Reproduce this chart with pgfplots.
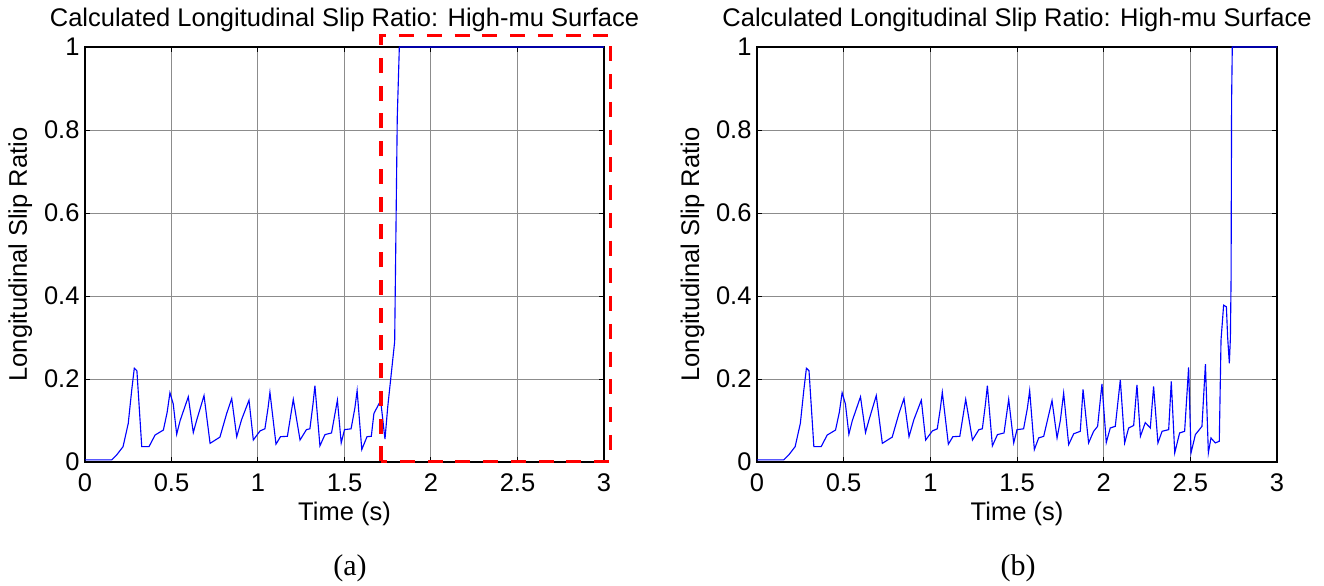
\documentclass[border=0pt]{standalone}
\usepackage{fontspec}
\setmainfont{Liberation Sans}
\newfontfamily\capfont{Liberation Serif}
\usepackage{pgfplots}
\pgfplotsset{compat=1.18}
\definecolor{mblue}{RGB}{0,0,255}
\definecolor{mred}{RGB}{255,0,0}
\newcommand{\lab}{\fontsize{10.2}{12}\selectfont}

\pgfplotsset{
  slipax/.style={
    scale only axis, width=207.6pt, height=166pt,
    xmin=0, xmax=3, ymin=0, ymax=1,
    xtick={0,0.5,1,1.5,2,2.5,3},
    ytick={0,0.2,0.4,0.6,0.8,1},
    grid=major,
    major grid style={black!45, line width=0.4pt},
    tick align=inside, major tick length=2pt,
    tick style={black, line width=0.4pt},
    axis line style={line width=0.7pt},
    /pgf/number format/assume math mode=true,
    ticklabel style={font=\lab},
    xticklabel style={anchor=north, inner sep=0pt, yshift=-4.4pt},
    yticklabel style={anchor=east, inner sep=0pt, xshift=-2pt},
    every axis title/.style={at={(axis description cs:0.5,1)}, anchor=base,
      yshift=8.1pt, font=\lab, inner sep=0pt},
    every axis x label/.style={at={(axis description cs:0.5,0)}, anchor=base,
      yshift=-23.2pt, font=\lab, inner sep=0pt},
    every axis y label/.style={at={(axis description cs:0,0.5)}, xshift=-23.2pt,
      rotate=90, anchor=base, font=\lab, inner sep=0pt},
    title={Calculated Longitudinal Slip Ratio: High-mu Surface},
    xlabel={Time (s)}, ylabel={Longitudinal Slip Ratio},
    clip=false,
  },
  slip/.style={mblue, line width=0.45pt},
}

\begin{document}
\begin{tikzpicture}
\useasboundingbox (0pt,0pt) rectangle (529.6pt,234pt);

% (a)
\begin{axis}[slipax, at={(34pt,49.2pt)}, anchor=south west]
\addplot[slip] coordinates {
 (0,0.005)(0.154,0.005)(0.183,0.017)(0.22,0.037)(0.25,0.093)(0.27,0.173)
 (0.285,0.226)(0.30,0.22)(0.328,0.037)(0.37,0.037)(0.405,0.065)(0.453,0.077)
 (0.475,0.12)(0.491,0.167)(0.51,0.14)(0.53,0.067)(0.55,0.10)(0.597,0.157)(0.626,0.071)
 (0.645,0.10)(0.688,0.16)(0.723,0.045)(0.78,0.06)(0.819,0.117)(0.848,0.153)
 (0.877,0.061)(0.905,0.102)(0.948,0.149)(0.973,0.053)(1.012,0.075)(1.04,0.08)
 (1.058,0.13)(1.069,0.168)(1.104,0.043)(1.13,0.061)(1.17,0.062)(1.204,0.151)(1.243,0.053)
 (1.28,0.078)(1.30,0.08)(1.318,0.14)(1.329,0.184)(1.358,0.039)(1.387,0.066)(1.425,0.07)
 (1.459,0.149)(1.481,0.046)(1.50,0.078)(1.538,0.08)(1.56,0.13)(1.573,0.172)(1.60,0.03)
 (1.63,0.061)(1.655,0.062)(1.67,0.117)(1.709,0.148)(1.734,0.055)(1.75,0.133)
 (1.79,0.29)(1.805,0.83)(1.817,1)(3,1)
};
\draw[mred, line width=1.35pt, dash pattern=on 6pt off 5.1pt]
  (axis cs:1.711,0.0017) rectangle (axis cs:3.036,1.028);
\end{axis}

% (b)
\begin{axis}[slipax, at={(302.8pt,49.2pt)}, anchor=south west, width=208pt]
\addplot[slip] coordinates {
 (0,0.005)(0.154,0.005)(0.183,0.017)(0.22,0.037)(0.25,0.093)(0.27,0.173)
 (0.285,0.226)(0.30,0.22)(0.328,0.037)(0.37,0.037)(0.405,0.065)(0.453,0.077)
 (0.475,0.12)(0.491,0.167)(0.51,0.14)(0.53,0.067)(0.55,0.10)(0.597,0.157)(0.626,0.071)
 (0.645,0.10)(0.688,0.16)(0.723,0.045)(0.78,0.06)(0.819,0.117)(0.848,0.153)
 (0.877,0.061)(0.905,0.102)(0.948,0.149)(0.973,0.053)(1.012,0.075)(1.04,0.08)
 (1.058,0.13)(1.069,0.168)(1.104,0.043)(1.13,0.061)(1.17,0.062)(1.204,0.151)(1.243,0.053)
 (1.28,0.078)(1.30,0.08)(1.318,0.14)(1.329,0.184)(1.358,0.039)(1.387,0.066)(1.425,0.07)
 (1.452,0.151)(1.481,0.046)(1.50,0.078)(1.538,0.08)(1.56,0.13)(1.573,0.172)(1.60,0.03)
 (1.625,0.058)(1.654,0.062)(1.702,0.148)(1.731,0.058)(1.75,0.10)(1.769,0.166)
 (1.798,0.042)(1.827,0.068)(1.865,0.074)(1.881,0.175)(1.913,0.046)(1.942,0.074)
 (1.965,0.086)(1.99,0.188)(2.015,0.047)(2.038,0.082)(2.067,0.086)(2.096,0.198)
 (2.121,0.046)(2.144,0.082)(2.173,0.088)(2.192,0.186)(2.212,0.062)(2.24,0.095)
 (2.269,0.082)(2.288,0.182)(2.313,0.046)(2.337,0.074)(2.375,0.078)(2.39,0.194)
 (2.41,0.022)(2.438,0.07)(2.467,0.074)(2.49,0.228)(2.504,0.022)(2.529,0.066)
 (2.567,0.086)(2.587,0.236)(2.604,0.022)(2.619,0.058)(2.644,0.046)(2.667,0.05)
 (2.677,0.294)(2.692,0.378)(2.708,0.374)(2.715,0.302)(2.725,0.238)(2.731,0.298)
 (2.735,0.44)(2.738,0.87)(2.742,1)(3,1)
};
\end{axis}

\node[font=\capfont\fontsize{12}{14}\selectfont, anchor=base] at (140pt,4pt) {(a)};
\node[font=\capfont\fontsize{12}{14}\selectfont, anchor=base] at (407.2pt,4pt) {(b)};
\end{tikzpicture}
\end{document}
